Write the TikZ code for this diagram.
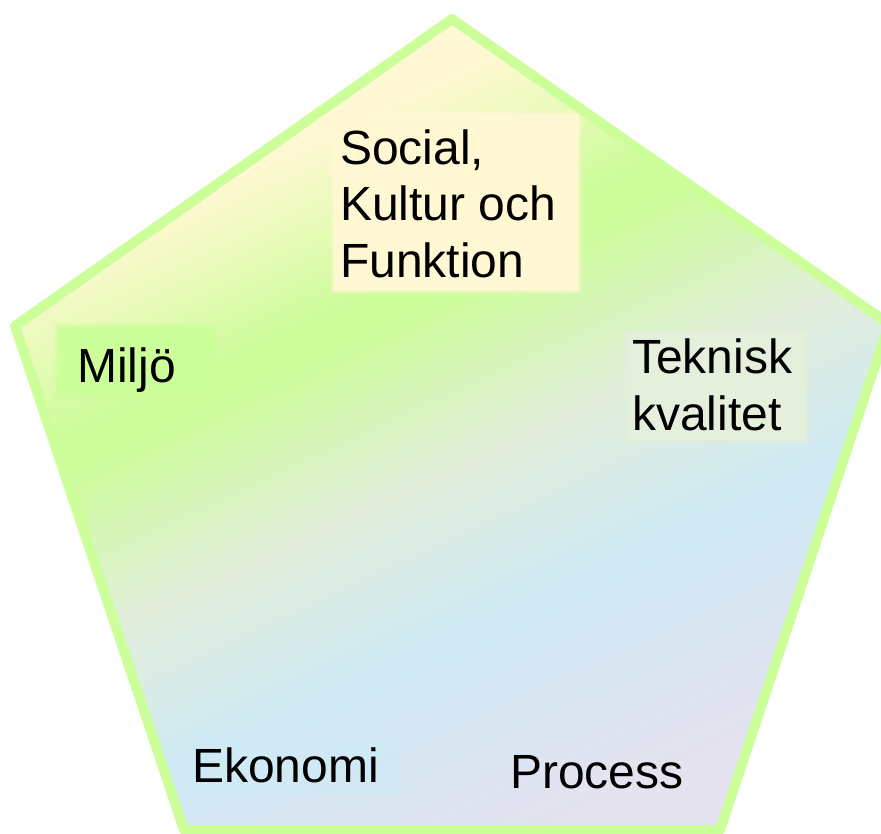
\documentclass[tikz,border=0pt]{standalone}
\usepackage{fontspec}
\setmainfont{Liberation Sans}
\definecolor{edgegreen}{HTML}{CCFF99}
\definecolor{cream}{HTML}{FFF8D2}
\definecolor{lgreen}{HTML}{CEFD9C}
\definecolor{midg}{HTML}{E2EEDC}
\definecolor{skyb}{HTML}{CFEAF5}
\definecolor{lav}{HTML}{E4E3EF}
\definecolor{tekbg}{HTML}{E4EFDC}
\definecolor{ekobg}{HTML}{CEEAF6}
% diagonal colour bands of the pentagon fill
\pgfdeclareverticalshading{pentfill}{100bp}{%
  color(0bp)=(lav); color(35.7bp)=(lav); color(43.2bp)=(skyb);
  color(48.6bp)=(midg); color(54.3bp)=(lgreen); color(55.7bp)=(lgreen);
  color(61.4bp)=(cream); color(100bp)=(cream)}
\tikzset{
  lbl/.style={inner sep=0pt, align=left, anchor=base west,
              font=\fontsize{48}{56.5}\selectfont},
  border/.style={draw=edgegreen, line width=10pt, line join=round},
}
% soft-edged highlight rectangle: #1 colour, #2 and #3 corners
\newcommand{\softbox}[3]{%
  \foreach \d/\o in {4/0.25, 2/0.5, 0/1}{%
    \fill[#1, opacity=\o] ([shift={(-\d,-\d)}]#2) rectangle ([shift={(\d,\d)}]#3);}}
\begin{document}
\begin{tikzpicture}[x=1pt,y=1pt]
\useasboundingbox (0,0) rectangle (881,-833);
\coordinate (T)  at (452,-19);
\coordinate (R)  at (889,-324);
\coordinate (BR) at (720,-830);
\coordinate (BL) at (184,-830);
\coordinate (L)  at (15,-326);
% gradient fill
\begin{scope}
  \clip (T) -- (R) -- (BR) -- (BL) -- (L) -- cycle;
  \shade[shading=pentfill, shading angle=25] (-250,-1130) rectangle (1150,270);
\end{scope}
% label backgrounds
\softbox{cream}{334,-290}{578,-114}
\softbox{edgegreen}{58,-396}{212,-327}
\softbox{tekbg}{626,-440}{806,-333}
\begin{scope}[opacity=0.6, transparency group]
  \softbox{ekobg}{188,-792}{400,-738}
\end{scope}
% outline
\draw[border] (T) -- (R) -- (BR) -- (BL) -- (L) -- cycle;
% labels (a multi-line node sits on the baseline of its last line)
\node[lbl] (social)  at (340,-277) {Social,\\Kultur och\\Funktion};
\node[lbl] (miljo)   at (77,-382)  {Miljö};
\node[lbl] (teknisk) at (632,-430) {Teknisk\\kvalitet};
\node[lbl] (ekonomi) at (192,-782) {Ekonomi};
\node[lbl] (process) at (510,-788) {Process};
\end{tikzpicture}
\end{document}
